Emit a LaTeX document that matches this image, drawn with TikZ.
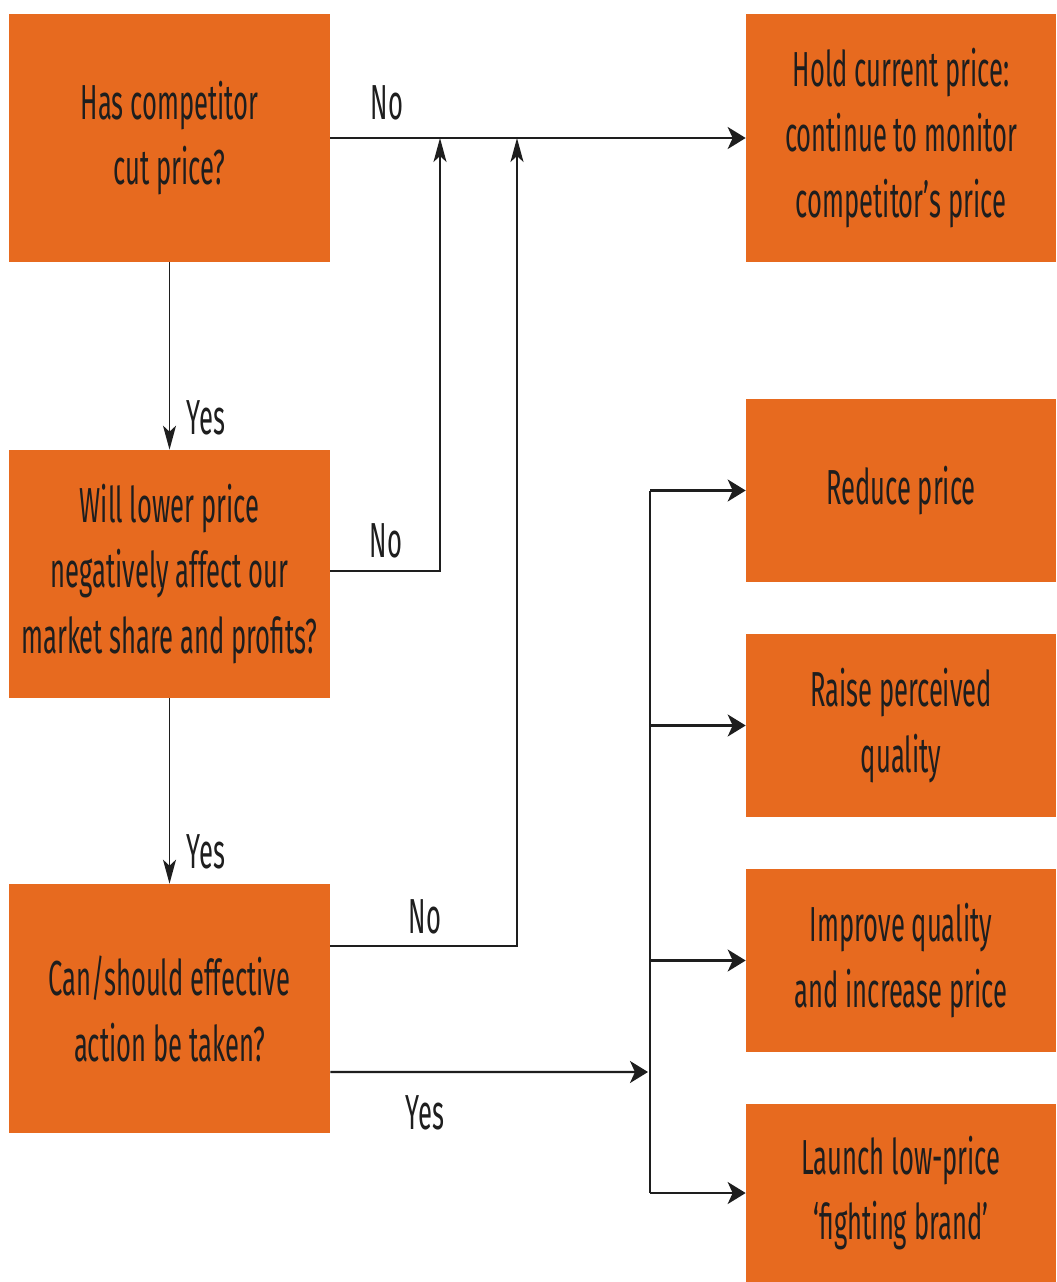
\documentclass[tikz,border=0pt]{standalone}
\usepackage{fontspec}
\setmainfont[FakeStretch=0.52]{Fira Sans}
\usetikzlibrary{positioning, arrows.meta}
\definecolor{PMOrange}{RGB}{231,106,31}
\definecolor{PMInk}{RGB}{30,30,30}

\begin{document}
\begin{tikzpicture}[x=0.02cm, y=-0.02cm,
      qbox/.style={rectangle, fill=PMOrange, minimum width=6.42cm,
                   minimum height=4.96cm, align=center, inner sep=0pt,
                   text=PMInk, font=\fontsize{28}{37.5}\selectfont},
      abox/.style={qbox, minimum width=6.2cm, minimum height=3.66cm},
      lbl/.style={text=PMInk, inner sep=0pt, font=\fontsize{28}{37.5}\selectfont},
      line/.style={draw=PMInk, line width=1.3pt},
      harr/.style={line, -{Stealth[length=0.36cm, width=0.44cm, inset=0.1cm]}},
      varr/.style={line, line width=1pt, -{Stealth[length=0.48cm, width=0.26cm, inset=0.12cm]}}
    ]
    \useasboundingbox[fill=white] (0,0) rectangle (1056,1282);

    \node[qbox] (cut)    at (169.5, 138)  {Has competitor\\cut price?};
    \node[qbox] (affect) at (169.5, 574)  {Will lower price\\negatively affect our\\market share and profits?};
    \node[qbox, minimum height=4.98cm] (action) at (169.5, 1008.5)
          {Can/should effective\\action be taken?};

    \node[abox, minimum height=4.96cm] (hold) at (901, 138)
          {Hold current price:\\continue to monitor\\competitor’s price};
    \node[abox] (reduce)  at (901, 490.5) {Reduce price};
    \node[abox] (raise)   at (901, 725.5) {Raise perceived\\quality};
    \node[abox] (improve) at (901, 960.5) {Improve quality\\and increase price};
    \node[abox, minimum height=3.56cm] (launch) at (901, 1193)
          {Launch low-price\\‘fighting brand’};

    \coordinate (joinA) at (440, 138);
    \coordinate (joinB) at (517, 138);
    \coordinate (hub)   at (648, 1072);
    \coordinate (bus)   at (650, 1072);

    % no branches
    \draw[harr] (cut.east) -- (hold.west);
    \draw[varr] ([yshift=0.06cm]affect.east) -| (joinA);
    \draw[varr] ([yshift=1.25cm]action.east) -| (joinB);

    % yes branches
    \draw[varr] (cut.south) -- (affect.north);
    \draw[varr] (affect.south) -- (action.north);
    \draw[harr] ([yshift=-1.27cm]action.east) -- (hub);

    \draw[line, line width=1pt] (bus |- reduce.west) -- (bus |- launch.west);
    \foreach \b in {reduce, raise, improve, launch}{
      \draw[harr] (bus |- \b.west) -- (\b.west);
    }

    \node[lbl] (noCut)    at (387, 103)  {No};
    \node[lbl] (yesCut)   at (206, 418)  {Yes};
    \node[lbl] (noAff)    at (386, 541)  {No};
    \node[lbl] (yesAff)   at (206, 852)  {Yes};
    \node[lbl] (noAct)    at (425, 917)  {No};
    \node[lbl] (yesAct)   at (425, 1113) {Yes};
  \end{tikzpicture}
\end{document}
